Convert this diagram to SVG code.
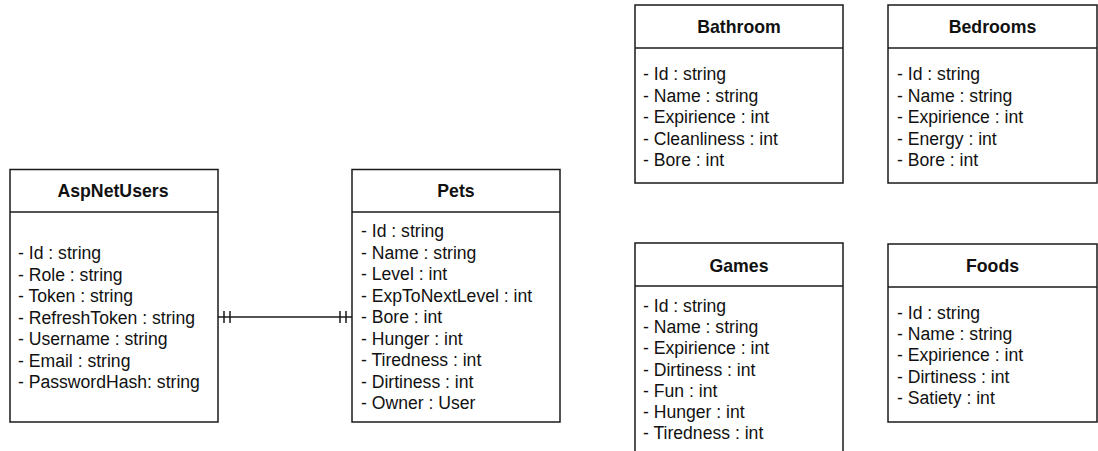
<svg xmlns="http://www.w3.org/2000/svg" width="1098" height="451" viewBox="0 0 1098 451">
<style>
.box{fill:#fff;stroke:#1a1a1a;stroke-width:1.5}
.div{stroke:#1a1a1a;stroke-width:1.5}
.t{font-family:"Liberation Sans",Arial,sans-serif;font-size:17.7px;font-weight:bold;fill:#111;text-anchor:middle}
.a{font-family:"Liberation Sans",Arial,sans-serif;font-size:17.6px;fill:#111}
.c{stroke:#1a1a1a;stroke-width:1.5;fill:none}
</style>
<rect width="1098" height="451" fill="#fff"/>
<g id="AspNetUsers">
<rect class="box" x="10" y="169.5" width="208" height="252.5"/>
<line class="div" x1="10" y1="212" x2="218" y2="212"/>
<text class="t" x="113" y="197">AspNetUsers</text>
<text class="a" x="18" y="259">- Id : string</text>
<text class="a" x="18" y="280.5">- Role : string</text>
<text class="a" x="18" y="302">- Token : string</text>
<text class="a" x="18" y="323.5">- RefreshToken : string</text>
<text class="a" x="18" y="345">- Username : string</text>
<text class="a" x="18" y="366.5">- Email : string</text>
<text class="a" x="18" y="388">- PasswordHash: string</text>
</g>
<g id="Pets">
<rect class="box" x="352" y="169.5" width="208" height="252.5"/>
<line class="div" x1="352" y1="212" x2="560" y2="212"/>
<text class="t" x="456" y="197">Pets</text>
<text class="a" x="361" y="237">- Id : string</text>
<text class="a" x="361" y="258.5">- Name : string</text>
<text class="a" x="361" y="280">- Level : int</text>
<text class="a" x="361" y="301.5">- ExpToNextLevel : int</text>
<text class="a" x="361" y="323">- Bore : int</text>
<text class="a" x="361" y="344.5">- Hunger : int</text>
<text class="a" x="361" y="366">- Tiredness : int</text>
<text class="a" x="361" y="387.5">- Dirtiness : int</text>
<text class="a" x="361" y="409">- Owner : User</text>
</g>
<g id="Bathroom">
<rect class="box" x="635" y="5" width="208" height="178"/>
<line class="div" x1="635" y1="48" x2="843" y2="48"/>
<text class="t" x="739" y="33">Bathroom</text>
<text class="a" x="643" y="80">- Id : string</text>
<text class="a" x="643" y="101.5">- Name : string</text>
<text class="a" x="643" y="123">- Expirience : int</text>
<text class="a" x="643" y="144.5">- Cleanliness : int</text>
<text class="a" x="643" y="166">- Bore : int</text>
</g>
<g id="Bedrooms">
<rect class="box" x="888" y="5" width="209" height="178"/>
<line class="div" x1="888" y1="48" x2="1097" y2="48"/>
<text class="t" x="992.5" y="33">Bedrooms</text>
<text class="a" x="897" y="80">- Id : string</text>
<text class="a" x="897" y="101.5">- Name : string</text>
<text class="a" x="897" y="123">- Expirience : int</text>
<text class="a" x="897" y="144.5">- Energy : int</text>
<text class="a" x="897" y="166">- Bore : int</text>
</g>
<g id="Games">
<rect class="box" x="635" y="243" width="208" height="220"/>
<line class="div" x1="635" y1="286" x2="843" y2="286"/>
<text class="t" x="739" y="272">Games</text>
<text class="a" x="643" y="312">- Id : string</text>
<text class="a" x="643" y="333.2">- Name : string</text>
<text class="a" x="643" y="354.4">- Expirience : int</text>
<text class="a" x="643" y="375.6">- Dirtiness : int</text>
<text class="a" x="643" y="396.8">- Fun : int</text>
<text class="a" x="643" y="418">- Hunger : int</text>
<text class="a" x="643" y="439.2">- Tiredness : int</text>
</g>
<g id="Foods">
<rect class="box" x="888" y="244" width="209" height="178"/>
<line class="div" x1="888" y1="287" x2="1097" y2="287"/>
<text class="t" x="992.5" y="272">Foods</text>
<text class="a" x="897" y="319">- Id : string</text>
<text class="a" x="897" y="340.2">- Name : string</text>
<text class="a" x="897" y="361.4">- Expirience : int</text>
<text class="a" x="897" y="382.6">- Dirtiness : int</text>
<text class="a" x="897" y="404">- Satiety : int</text>
</g>
<g id="connectors">
<line class="c" x1="218" y1="317" x2="352" y2="317"/>
<line class="c" x1="224" y1="311" x2="224" y2="323"/>
<line class="c" x1="230" y1="311" x2="230" y2="323"/>
<line class="c" x1="340" y1="311" x2="340" y2="323"/>
<line class="c" x1="346" y1="311" x2="346" y2="323"/>
</g>
</svg>
